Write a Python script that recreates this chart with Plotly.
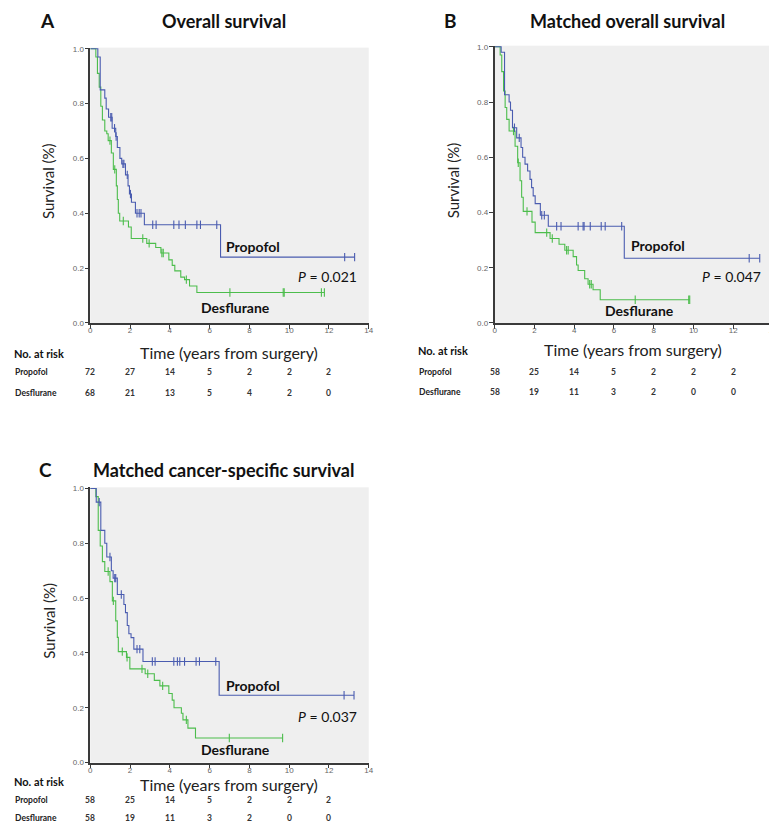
import numpy as np
import plotly.graph_objects as go

W, H = 777, 825

# ---------------- data ----------------
ticks_x = [0, 2, 4, 6, 8, 10, 12]

# Panel A: Overall survival
A_prop_t = [0.38, 0.50, 0.73, 0.80, 0.92, 1.10, 1.28, 1.36, 1.49, 1.58, 1.77, 1.90, 1.97, 2.07, 2.27, 2.72, 6.55]
A_prop_s = [0.97, 0.85, 0.82, 0.78, 0.75, 0.71, 0.68, 0.64, 0.60, 0.58, 0.54, 0.50, 0.47, 0.44, 0.40, 0.358, 0.24]
A_prop_c = [1.03, 1.08, 1.22, 1.30, 1.64, 1.69, 1.86, 2.02, 2.35, 2.46, 2.55, 3.14, 3.31, 4.20, 4.46, 4.78, 5.36, 5.54, 6.36, 12.79, 13.29]
A_des_t = [0.28, 0.36, 0.45, 0.53, 0.61, 0.73, 0.83, 0.90, 1.06, 1.16, 1.31, 1.36, 1.41, 1.48, 1.92, 2.06, 2.84, 3.29, 3.55, 3.95, 4.12, 4.25, 4.55, 4.74, 4.99, 5.36]
A_des_s = [0.97, 0.91, 0.86, 0.79, 0.74, 0.70, 0.69, 0.665, 0.62, 0.56, 0.50, 0.45, 0.40, 0.372, 0.35, 0.308, 0.29, 0.275, 0.255, 0.23, 0.21, 0.19, 0.167, 0.158, 0.135, 0.111]
A_des_c = [0.99, 1.23, 1.66, 2.64, 2.96, 3.60, 3.67, 4.83, 7.02, 9.70, 9.75, 11.62, 11.77]
A_risk_prop = [72, 27, 14, 5, 2, 2, 2]
A_risk_des = [68, 21, 13, 5, 4, 2, 0]

# Panel B: Matched overall survival
B_prop_t = [0.33, 0.50, 0.73, 0.80, 0.90, 1.11, 1.33, 1.41, 1.53, 1.66, 1.78, 1.86, 1.94, 2.04, 2.30, 2.70, 6.52]
B_prop_s = [0.98, 0.826, 0.80, 0.77, 0.707, 0.67, 0.635, 0.60, 0.575, 0.55, 0.52, 0.49, 0.46, 0.432, 0.39, 0.35, 0.234]
B_prop_c = [1.00, 1.24, 2.37, 2.50, 3.12, 3.34, 4.20, 4.45, 4.50, 4.81, 5.36, 5.56, 6.39, 12.80, 13.33]
B_des_t = [0.28, 0.36, 0.45, 0.53, 0.61, 0.73, 1.03, 1.16, 1.28, 1.36, 1.44, 1.88, 2.04, 2.79, 3.24, 3.53, 3.95, 4.12, 4.20, 4.53, 4.70, 4.95, 5.31]
B_des_s = [0.97, 0.91, 0.84, 0.78, 0.737, 0.695, 0.64, 0.58, 0.515, 0.455, 0.404, 0.365, 0.327, 0.306, 0.285, 0.263, 0.24, 0.21, 0.19, 0.16, 0.14, 0.12, 0.084]
B_des_c = [0.95, 1.19, 1.63, 2.62, 2.90, 3.62, 3.70, 4.78, 4.86, 7.07, 9.76, 9.81]
B_risk_prop = [58, 25, 14, 5, 2, 2, 2]
B_risk_des = [58, 19, 11, 3, 2, 0, 0]

# Panel C: Matched cancer-specific survival
C_prop_t = [0.30, 0.53, 0.73, 0.83, 1.06, 1.15, 1.36, 1.69, 1.77, 1.86, 1.94, 2.05, 2.19, 2.65, 6.48]
C_prop_s = [0.95, 0.847, 0.80, 0.75, 0.70, 0.673, 0.613, 0.577, 0.547, 0.50, 0.47, 0.456, 0.414, 0.369, 0.246]
C_prop_c = [0.45, 0.99, 1.23, 1.28, 1.56, 2.35, 2.49, 3.12, 3.26, 4.20, 4.38, 4.50, 4.74, 5.32, 5.49, 6.31, 12.76, 13.26]
C_des_t = [0.28, 0.40, 0.50, 0.61, 0.73, 0.99, 1.11, 1.28, 1.36, 1.41, 1.82, 1.99, 2.76, 3.22, 3.50, 3.95, 4.12, 4.21, 4.58, 4.66, 4.91, 5.29]
C_des_s = [0.97, 0.847, 0.79, 0.733, 0.697, 0.66, 0.59, 0.517, 0.457, 0.405, 0.384, 0.342, 0.324, 0.30, 0.28, 0.252, 0.228, 0.20, 0.18, 0.156, 0.126, 0.09]
C_des_c = [0.90, 1.16, 1.61, 1.85, 2.60, 2.89, 3.64, 4.83, 6.99, 9.67]
C_risk_prop = [58, 25, 14, 5, 2, 2, 2]
C_risk_des = [58, 19, 11, 3, 2, 0, 0]

titles = ["Overall survival", "Matched overall survival", "Matched cancer-specific survival"]
letters = ["A", "B", "C"]
p_values = ["0.021", "0.047", "0.037"]
group_names = ["Propofol", "Desflurane"]

BLUE = "#4a5cb0"
GREEN = "#4cbd4c"

# --------------- helpers ---------------
def px(x):
    return x / W

def py(y):
    return 1 - y / H

def step_xy(t, s, end):
    xs = [0.0] + list(t) + [end]
    ys = [1.0] + list(s) + [s[-1]]
    return xs, ys

def surv_at(t, s, c):
    t = np.asarray(t)
    s = np.asarray([1.0] + list(s))
    idx = np.searchsorted(t, np.asarray(c), side="right")
    return s[idx]

# panel pixel layout
boxes = [(81, 362, 37, 315), (489, 770, 35, 315), (81, 362, 481, 759)]
letter_pos = [(38, 10), (444, 10), (36, 463)]
title_y = [10, 10, 463]
xtitle_y = [345, 342, 781]
risk_x = [2, 410, 2]
risk_y = [(346, 365, 386), (343, 365, 385), (778, 797, 815)]
desfl_y = [0.058, 0.045, 0.047]

panels = [
    (A_prop_t, A_prop_s, A_prop_c, A_des_t, A_des_s, A_des_c, A_risk_prop, A_risk_des),
    (B_prop_t, B_prop_s, B_prop_c, B_des_t, B_des_s, B_des_c, B_risk_prop, B_risk_des),
    (C_prop_t, C_prop_s, C_prop_c, C_des_t, C_des_s, C_des_c, C_risk_prop, C_risk_des),
]

fig = go.Figure()
annotations = []
layout_axes = {}
FONT = "Lato, Open Sans"

for i, (box, pdata) in enumerate(zip(boxes, panels)):
    x0, x1, yt, yb = box
    sfx = "" if i == 0 else str(i + 1)
    xa, ya = "x" + sfx, "y" + sfx
    pt, ps, pc, dt, ds, dc, rp, rd = pdata

    for (t, s, c, col) in [(dt, ds, dc, GREEN), (pt, ps, pc, BLUE)]:
        end = max(c[-1], t[-1])
        xs, ys = step_xy(t, s, end)
        fig.add_trace(go.Scatter(x=xs, y=ys, mode="lines", line=dict(color=col, width=1.1, shape="hv"),
                                 xaxis=xa, yaxis=ya, showlegend=False, hoverinfo="skip"))
        fig.add_trace(go.Scatter(x=c, y=surv_at(t, s, c), mode="markers",
                                 marker=dict(symbol="line-ns", size=6, line=dict(color=col, width=1.1)),
                                 xaxis=xa, yaxis=ya, showlegend=False, hoverinfo="skip", cliponaxis=False))

    axcommon = dict(showgrid=False, zeroline=False, showline=True, linecolor="#3a3a3a", linewidth=1.5,
                    ticks="outside", ticklen=4, tickwidth=1, tickcolor="#3a3a3a",
                    tickfont=dict(family="Liberation Sans, Arial", size=8, color="#666666"))
    layout_axes["xaxis" + sfx] = dict(axcommon, domain=[px(x0), px(x1)], range=[0, 14],
                                      tickvals=[0, 2, 4, 6, 8, 10, 12, 14], anchor=ya,
                                      ticklabelstandoff=-5)
    layout_axes["yaxis" + sfx] = dict(axcommon, domain=[py(yb), py(yt)], range=[0, 1.004],
                                      tickvals=[0, 0.2, 0.4, 0.6, 0.8, 1.0], tickformat=".1f", anchor=xa,
                                      ticklabelstandoff=-1)

    # titles
    lxp, lyp = letter_pos[i]
    annotations.append(dict(text="<b>" + letters[i] + "</b>", xref="paper", yref="paper",
                            x=px(lxp), y=py(lyp), xanchor="center", yanchor="middle", showarrow=False,
                            font=dict(family=FONT, size=19, color="#111111")))
    annotations.append(dict(text="<b>" + titles[i] + "</b>", xref="paper", yref="paper",
                            x=px((x0 + x1) / 2 - 6), y=py(title_y[i]), xanchor="center", yanchor="middle",
                            showarrow=False, font=dict(family=FONT, size=18, color="#111111")))
    # y-axis title
    annotations.append(dict(text="Survival (%)", xref="paper", yref="paper", textangle=-90,
                            x=px(x0 - 42), y=py((yt + yb) / 2 - 4), xanchor="center", yanchor="middle",
                            showarrow=False, font=dict(family=FONT, size=15, color="#222222")))
    # x-axis title
    annotations.append(dict(text="Time (years from surgery)", xref="paper", yref="paper",
                            x=px((x0 + x1) / 2 - 1), y=py(xtitle_y[i]), xanchor="center", yanchor="middle",
                            showarrow=False, font=dict(family=FONT, size=16, color="#222222")))
    # curve labels
    annotations.append(dict(text="<b>Propofol</b>", xref=xa, yref=ya, x=8.2, y=0.28,
                            xanchor="center", yanchor="middle", showarrow=False,
                            font=dict(family=FONT, size=14, color="#111111")))
    annotations.append(dict(text="<b>Desflurane</b>", xref=xa, yref=ya, x=7.3, y=desfl_y[i],
                            xanchor="center", yanchor="middle", showarrow=False,
                            font=dict(family=FONT, size=14, color="#111111")))
    annotations.append(dict(text="<i>P</i> = " + p_values[i], xref=xa, yref=ya, x=13.5, y=0.168,
                            xanchor="right", yanchor="middle", showarrow=False,
                            font=dict(family=FONT, size=14, color="#111111")))

    # number at risk table
    lx = risk_x[i]
    ry = risk_y[i]
    annotations.append(dict(text="<b>No. at risk</b>", xref="paper", yref="paper", x=px(lx), y=py(ry[0]),
                            xanchor="left", yanchor="middle", showarrow=False,
                            font=dict(family=FONT, size=11, color="#111111")))
    for name, ypix, vals in [(group_names[0], ry[1], rp), (group_names[1], ry[2], rd)]:
        annotations.append(dict(text="<b>" + name + "</b>", xref="paper", yref="paper", x=px(lx + 1),
                                y=py(ypix), xanchor="left", yanchor="middle", showarrow=False,
                                font=dict(family=FONT, size=8.5, color="#222222")))
        for tv, v in zip(ticks_x, vals):
            annotations.append(dict(text="<b>" + str(v) + "</b>", xref=xa, yref="paper", x=tv,
                                    y=py(ypix), xanchor="center", yanchor="middle", showarrow=False,
                                    font=dict(family=FONT, size=8.5, color="#333333")))

fig.update_layout(width=W, height=H, margin=dict(l=0, r=0, t=0, b=0),
                  paper_bgcolor="white", plot_bgcolor="#efefef",
                  annotations=annotations, showlegend=False, **layout_axes)

fig.write_html("out.html")
